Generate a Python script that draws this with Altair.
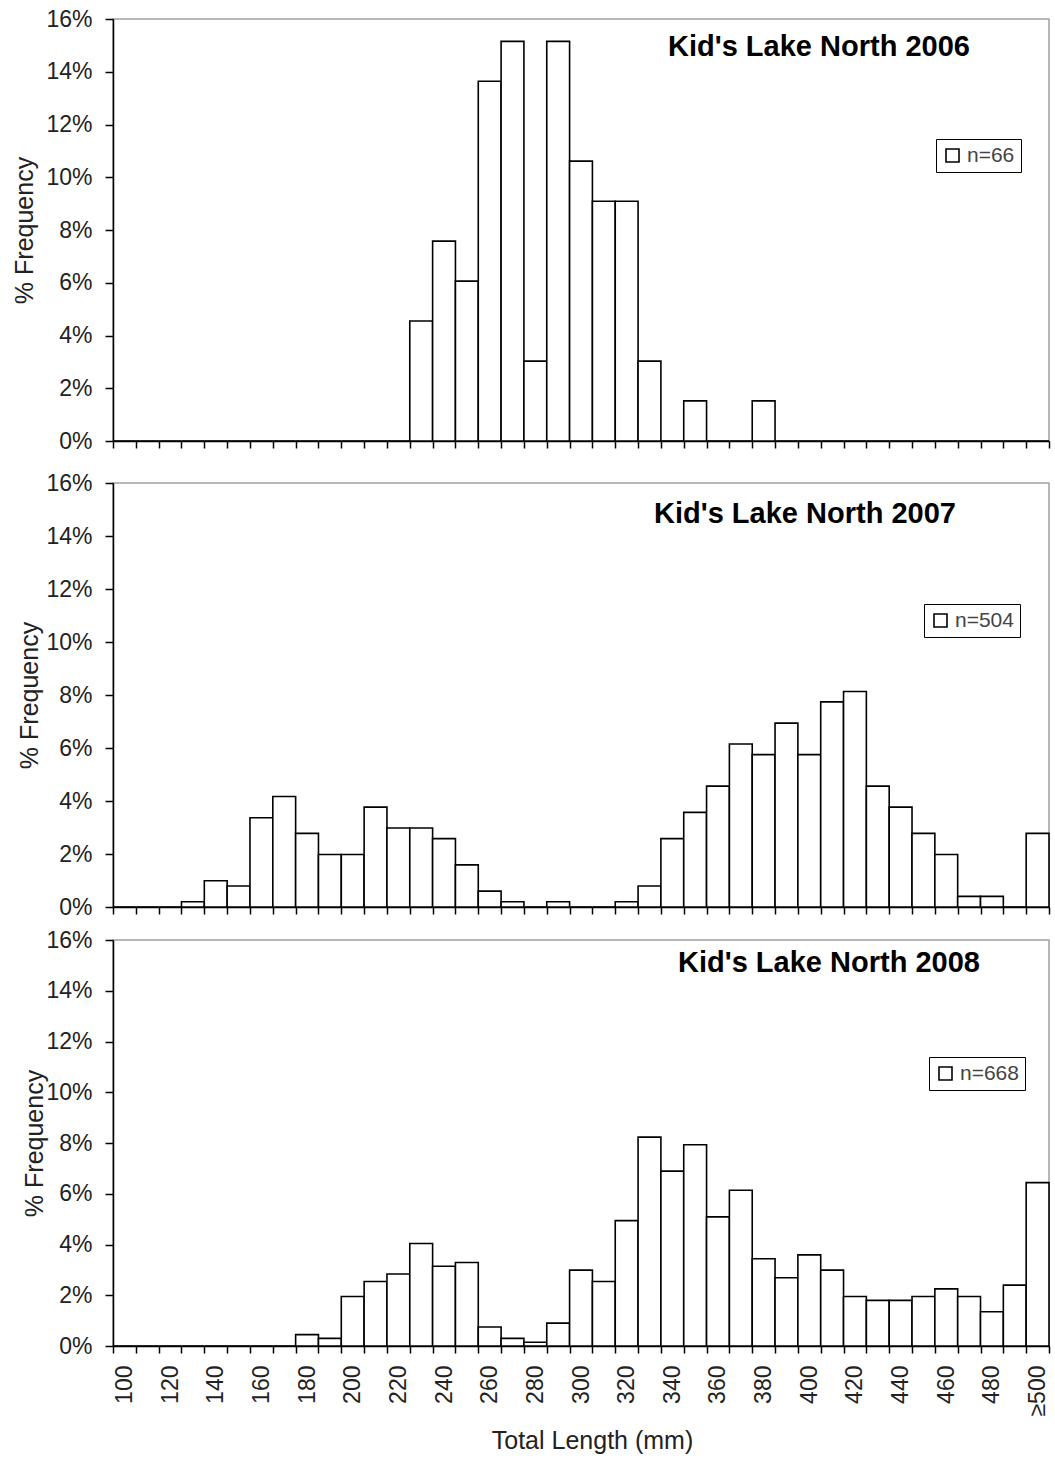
import altair as alt
import pandas as pd

FONT = "Liberation Sans"

categories = ["100", "110", "120", "130", "140", "150", "160", "170", "180", "190",
              "200", "210", "220", "230", "240", "250", "260", "270", "280", "290",
              "300", "310", "320", "330", "340", "350", "360", "370", "380", "390",
              "400", "410", "420", "430", "440", "450", "460", "470", "480", "490",
              "≥500"]

pct_2006 = [0, 0, 0, 0, 0, 0, 0, 0, 0, 0,
            0, 0, 0, 4.55, 7.58, 6.06, 13.64, 15.15, 3.03, 15.15,
            10.61, 9.09, 9.09, 3.03, 0, 1.52, 0, 0, 1.52, 0,
            0, 0, 0, 0, 0, 0, 0, 0, 0, 0,
            0]

pct_2007 = [0, 0, 0, 0.20, 0.99, 0.79, 3.37, 4.17, 2.78, 1.98,
            1.98, 3.77, 2.98, 2.98, 2.58, 1.59, 0.60, 0.20, 0, 0.20,
            0, 0, 0.20, 0.79, 2.58, 3.57, 4.56, 6.15, 5.75, 6.94,
            5.75, 7.74, 8.13, 4.56, 3.77, 2.78, 1.98, 0.40, 0.40, 0,
            2.78]

pct_2008 = [0, 0, 0, 0, 0, 0, 0, 0, 0.45, 0.30,
            1.95, 2.54, 2.84, 4.04, 3.14, 3.29, 0.75, 0.30, 0.15, 0.90,
            2.99, 2.54, 4.94, 8.23, 6.89, 7.93, 5.09, 6.14, 3.44, 2.69,
            3.59, 2.99, 1.95, 1.80, 1.80, 1.95, 2.25, 1.95, 1.35, 2.40,
            6.44]

titles = ["Kid's Lake North 2006", "Kid's Lake North 2007", "Kid's Lake North 2008"]
n_labels = ["n=66", "n=504", "n=668"]
y_ticks = [0, 2, 4, 6, 8, 10, 12, 14, 16]

W = 936


def panel(pct, n_label, title, height, legend_xy, title_xy, ytitle_pad, bottom):
    df = pd.DataFrame({"length": categories, "pct": pct, "series": n_label})
    if bottom:
        x_axis = alt.Axis(
            tickBand="extent", tickSize=7, labelAngle=270, labelPadding=12,
            labelExpr="(toNumber(datum.value) % 20 == 0 || datum.value == '≥500') ? datum.value : ''",
            title="Total Length (mm)", titlePadding=13, titleX=W / 2 + 11,
        )
    else:
        x_axis = alt.Axis(tickBand="extent", tickSize=7, labels=False, title=None)

    bars = alt.Chart(df).mark_bar(stroke="black", strokeWidth=1.6).encode(
        x=alt.X("length:N", sort=categories,
                scale=alt.Scale(paddingInner=0, paddingOuter=0), axis=x_axis),
        y=alt.Y("pct:Q", scale=alt.Scale(domain=[0, 16], nice=False),
                axis=alt.Axis(values=y_ticks, labelExpr="datum.value + '%'",
                              tickSize=8, labelPadding=13, grid=False,
                              title="% Frequency", titlePadding=ytitle_pad)),
        fill=alt.Fill("series:N", scale=alt.Scale(range=["white"]),
                      legend=alt.Legend(orient="none", legendX=legend_xy[0],
                                        legendY=legend_xy[1], title=None,
                                        strokeColor="black", padding=6,
                                        symbolType="square", symbolSize=169,
                                        symbolStrokeColor="black",
                                        symbolStrokeWidth=1.6,
                                        labelFont=FONT, labelFontSize=21,
                                        labelColor="#444444", labelOffset=4)),
    )
    txt = alt.Chart(pd.DataFrame({"t": [title]})).mark_text(
        font=FONT, fontSize=29, fontWeight="bold", align="center",
        baseline="alphabetic", color="black"
    ).encode(x=alt.value(title_xy[0]), y=alt.value(title_xy[1]), text="t:N")
    return alt.layer(bars, txt).properties(width=W, height=height)


p1 = panel(pct_2006, n_labels[0], titles[0], 422, (823, 120), (706, 37), 8, False)
p2 = panel(pct_2007, n_labels[1], titles[1], 424, (811, 121), (692, 40), 3, False)
p3 = panel(pct_2008, n_labels[2], titles[2], 406, (816, 117), (716, 32), -2, True)

top = alt.vconcat(p1, p2, spacing=17).resolve_scale(fill="independent")
chart = alt.vconcat(top, p3, spacing=8).resolve_scale(fill="independent").properties(
    padding={"left": 12, "top": 7, "right": 0, "bottom": 0},
    background="white",
).configure_view(
    stroke="#a0a0a0", strokeWidth=1.5
).configure_axis(
    domainColor="black", domainWidth=1.5, tickColor="black", tickWidth=1.5,
    labelFont=FONT, labelFontSize=23, labelColor="#222222",
    titleFont=FONT, titleFontSize=25, titleFontWeight="normal", titleColor="#222222",
)

chart.save("out.html", embed_options={"renderer": "svg", "actions": False})
